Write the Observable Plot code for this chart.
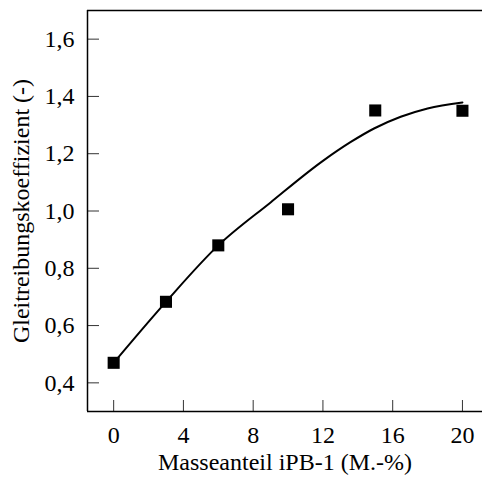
<!DOCTYPE html>
<html>
<head>
<meta charset="utf-8">
<script src="https://cdn.jsdelivr.net/npm/d3@7"></script>
<script src="https://cdn.jsdelivr.net/npm/@observablehq/plot@0.6"></script>
<style>
  html, body { margin: 0; padding: 0; background: #fff; }
</style>
</head>
<body>
<div id="chart"></div>
<script>
// Measured data points (mass fraction iPB-1 in M.-%, sliding friction coefficient)
const massFraction = [0, 3, 6, 10, 15, 20];
const frictionCoef = [0.47, 0.683, 0.88, 1.006, 1.351, 1.35];

// Fit curve
const fitX = [0, 3, 6, 9, 12, 13.6, 14.93, 16.46, 18, 20];
const fitY = [0.47, 0.683, 0.88, 1.03, 1.175, 1.241, 1.288, 1.329, 1.358, 1.379];

const xTicks = [0, 4, 8, 12, 16, 20];
const yTicks = [0.4, 0.6, 0.8, 1.0, 1.2, 1.4, 1.6];
const xDomain = [-1.5, 21.15];
const yDomain = [0.3, 1.7];

const points = massFraction.map((x, i) => ({x, y: frictionCoef[i]}));
const fit = fitX.map((x, i) => ({x, y: fitY[i]}));
const fmt = d => d.toFixed(1).replace(".", ",");

const chart = Plot.plot({
  width: 482,
  height: 480,
  marginLeft: 87,
  marginRight: 0,
  marginTop: 10,
  marginBottom: 69,
  style: {fontFamily: "'Liberation Serif', 'Times New Roman', serif", fontSize: "24px", color: "#000", background: "#fff"},
  x: {domain: xDomain, label: "Masseanteil iPB-1 (M.-%)", labelAnchor: "center", labelArrow: "none"},
  y: {domain: yDomain, label: "Gleitreibungskoeffizient (-)", labelAnchor: "center", labelArrow: "none"},
  marks: [
    // tick labels + axis titles
    Plot.axisX(xTicks, {tickSize: 0, tickPadding: 14, fontSize: 24, label: "Masseanteil iPB-1 (M.-%)", labelAnchor: "center", labelOffset: 58, labelArrow: "none"}),
    Plot.axisY(yTicks, {tickSize: 0, tickPadding: 13, fontSize: 24, tickFormat: fmt, label: "Gleitreibungskoeffizient (-)", labelAnchor: "center", labelOffset: 76, labelArrow: "none"}),
    // inward ticks
    Plot.axisX(xTicks, {tickSize: 11, dy: -11, tickFormat: () => "", label: null, stroke: "#333"}),
    Plot.axisY(yTicks, {tickSize: 12, dx: 12, tickFormat: () => "", label: null, stroke: "#333"}),
    // frame (left, top, bottom)
    Plot.ruleX([xDomain[0]], {strokeWidth: 1.5}),
    Plot.ruleY(yDomain, {strokeWidth: 1.5}),
    // fit curve
    Plot.line(fit, {x: "x", y: "y", curve: "monotone-x", strokeWidth: 2, stroke: "#000"}),
    // data points
    Plot.dot(points, {x: "x", y: "y", symbol: "square", r: 6.8, fill: "#000", stroke: null})
  ]
});
document.getElementById("chart").appendChild(chart);
</script>
</body>
</html>
